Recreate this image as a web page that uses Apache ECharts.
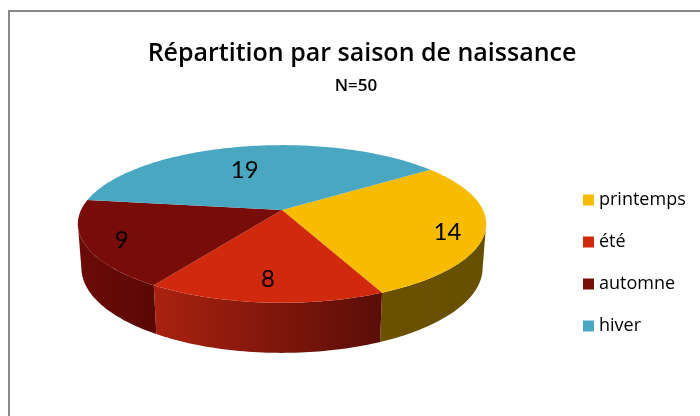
<!DOCTYPE html>
<html lang="fr">
<head>
<meta charset="UTF-8">
<title>Répartition par saison de naissance</title>
<style>
  html, body { margin: 0; padding: 0; background: #fff; }
  #main { width: 700px; height: 416px; }
</style>
</head>
<body>
<div id="main"></div>
<script src="https://cdn.jsdelivr.net/npm/echarts@6/dist/echarts.min.js"></script>
<script>
  // data
  const seasons = ['printemps', 'été', 'automne', 'hiver'];
  const counts = [14, 8, 9, 19];
  const total = 50;

  // colours: top face, wall light, wall dark
  const topColors = ['#F7BB00', '#D0290D', '#780C08', '#4AA7C2'];
  const wallColors = [['#6B5100', '#665000'], ['#AA2210', '#5A0D07'], ['#6C0B07', '#5A0805'], ['#2E6F82', '#245A6A']];

  // fake 3d camera (perspective, looking down)
  const CX = 282, CY = 210, F = 1051, DIST = 5.23;
  const SA = 0.38, CA = 0.925, THICK = 0.235;
  const START = -35.5 * Math.PI / 180;

  function proj(phi, y, r) {
    r = r == null ? 1 : r;
    const X = r * Math.cos(phi), Z = r * Math.sin(phi);
    const yc = y * CA - Z * SA;
    const depth = DIST - (y * SA + Z * CA);
    return [CX + F * X / depth, CY - F * yc / depth];
  }

  // start / end angle of every slice
  const angles = [];
  let acc = START;
  counts.forEach(v => {
    const a = acc, b = acc + v / total * Math.PI * 2;
    angles.push([a, b]);
    acc = b;
  });

  const wallMin = Math.asin(1 / (DIST * CA)) - 0.03;
  const wallMax = Math.PI - wallMin;

  // projected outline of the top face as a plain ellipse (for the labels, like excel does)
  const farPt = proj(-Math.PI / 2, 0), nearPt = proj(Math.PI / 2, 0);
  const ellCy = (farPt[1] + nearPt[1]) / 2, ellRy = (nearPt[1] - farPt[1]) / 2;
  let ellRx = 0;
  for (let t = 0; t < Math.PI * 2; t += 0.01) ellRx = Math.max(ellRx, proj(t, 0)[0] - CX);
  function ellAngle(phi) {
    const p = proj(phi, 0);
    return Math.atan2((p[1] - ellCy) / ellRy, (p[0] - CX) / ellRx);
  }

  function arc(a, b, y) {
    const pts = [];
    const n = Math.max(4, Math.ceil((b - a) / 0.02));
    for (let i = 0; i <= n; i++) pts.push(proj(a + (b - a) * i / n, y));
    return pts;
  }

  function renderSlice(idx) {
    return function (params, api) {
      const a = angles[idx][0], b = angles[idx][1];
      const children = [];
      // visible front wall
      [-2 * Math.PI, 0, 2 * Math.PI].forEach(k => {
        const lo = Math.max(a, wallMin + k), hi = Math.min(b, wallMax + k);
        if (hi > lo) {
          const topEdge = arc(lo, hi, 0);
          const botEdge = arc(lo, hi, -THICK).reverse();
          children.push({
            type: 'polygon',
            z2: 1,
            shape: { points: topEdge.concat(botEdge) },
            style: {
              fill: new echarts.graphic.LinearGradient(0, 0, 1, 0, [
                { offset: 0, color: wallColors[idx][0] },
                { offset: 1, color: wallColors[idx][1] }
              ])
            }
          });
        }
      });
      // top face
      children.push({
        type: 'polygon',
        z2: 10,
        shape: { points: [proj(0, 0, 0)].concat(arc(a, b, 0)) },
        style: { fill: topColors[idx] }
      });
      // value label, mid angle on the flat ellipse
      const ta = ellAngle(a);
      let tb = ellAngle(b);
      while (tb < ta) tb += Math.PI * 2;
      const m = (ta + tb) / 2;
      children.push({
        type: 'text',
        z2: 20,
        x: CX + 0.82 * ellRx * Math.cos(m),
        y: ellCy + 0.70 * ellRy * Math.sin(m),
        style: {
          text: String(api.value(0)),
          fill: '#000',
          font: '24px Lato, "Open Sans", sans-serif',
          align: 'center',
          verticalAlign: 'middle'
        }
      });
      return { type: 'group', children: children };
    };
  }

  const chart = echarts.init(document.getElementById('main'), null, { renderer: 'canvas' });

  const option = {
    animation: false,
    backgroundColor: '#fff',
    title: [{
      text: 'Répartition par saison de naissance',
      left: 357,
      top: 36,
      textAlign: 'center',
      textStyle: { fontFamily: 'Open Sans', fontSize: 25, fontWeight: 600, color: '#000' }
    }, {
      text: 'N=50',
      left: 351,
      top: 73,
      textAlign: 'center',
      textStyle: { fontFamily: 'Open Sans', fontSize: 17, fontWeight: 600, color: '#000' }
    }],
    legend: {
      orient: 'vertical',
      left: 578,
      top: 186,
      icon: 'rect',
      itemWidth: 11,
      itemHeight: 11,
      itemGap: 24,
      textStyle: { fontFamily: 'Open Sans', fontSize: 18, color: '#000' },
      data: seasons
    },
    graphic: [{
      type: 'rect',
      shape: { x: 9, y: 11, width: 720, height: 440 },
      style: { fill: 'none', stroke: '#888', lineWidth: 2 },
      silent: true
    }],
    series: seasons.map((s, i) => ({
      name: s,
      type: 'custom',
      coordinateSystem: 'none',
      itemStyle: { color: topColors[i] },
      renderItem: renderSlice(i),
      data: [[counts[i]]]
    }))
  };

  chart.setOption(option);
</script>
</body>
</html>
